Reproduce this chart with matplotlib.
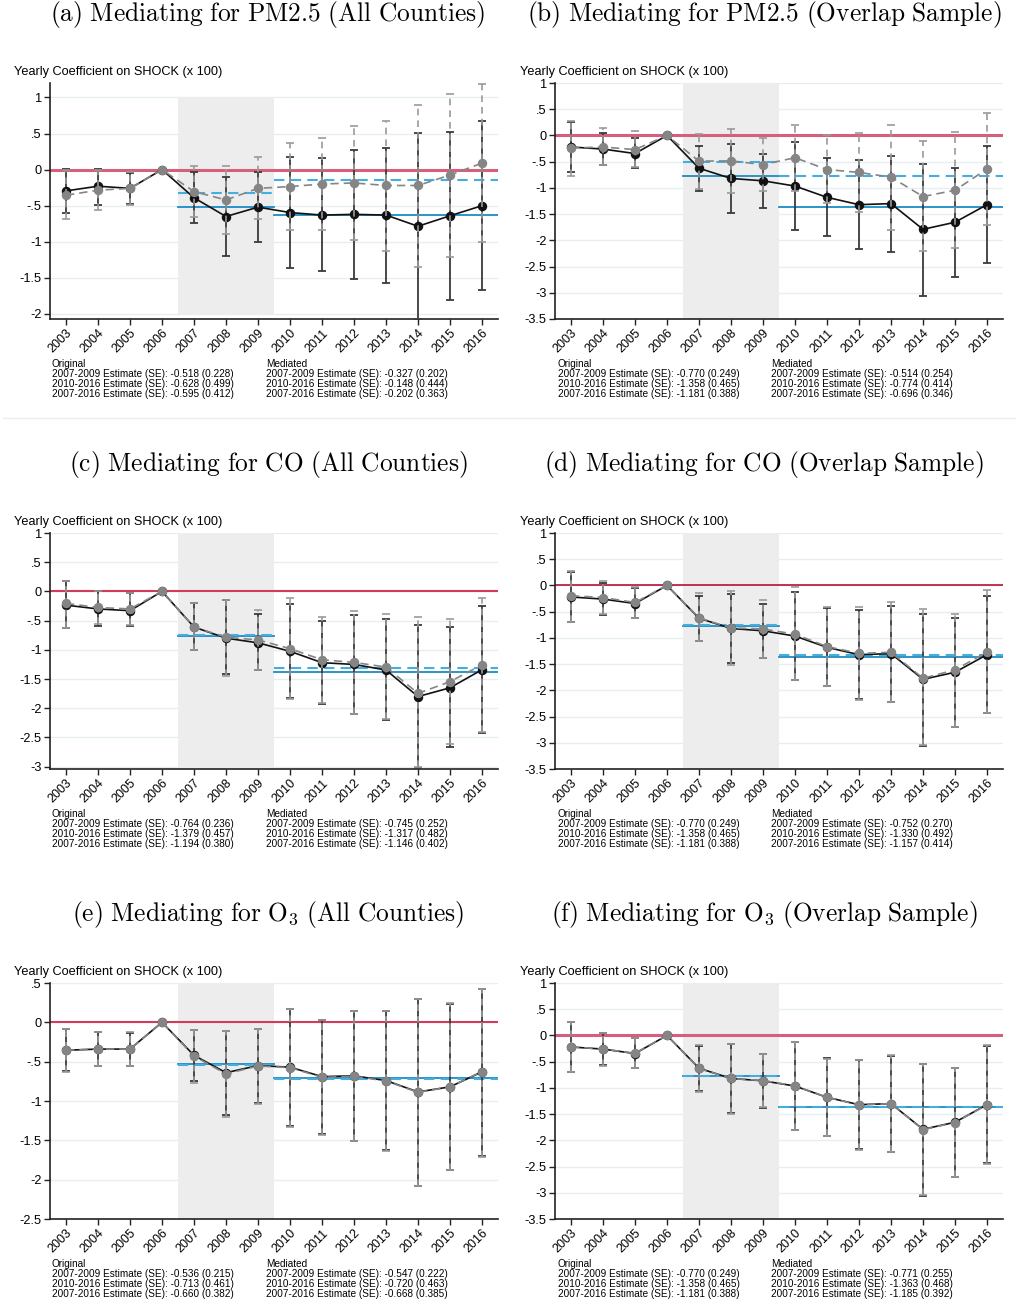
import matplotlib

matplotlib.use("Agg")
import matplotlib.pyplot as plt
import numpy as np

plt.rcParams["font.family"] = ["Liberation Sans", "DejaVu Sans"]
plt.rcParams["mathtext.fontset"] = "cm"

years = [2003, 2004, 2005, 2006, 2007, 2008, 2009, 2010, 2011, 2012, 2013, 2014, 2015, 2016]

# (a) PM2.5, all counties
a_orig = [-0.295, -0.23, -0.26, 0, -0.39, -0.65, -0.52, -0.595, -0.63, -0.62, -0.63, -0.785, -0.64, -0.50]
a_orig_lo = [-0.60, -0.49, -0.47, 0, -0.74, -1.20, -1.01, -1.36, -1.41, -1.51, -1.57, -2.09, -1.80, -1.67]
a_orig_hi = [0.005, 0.01, -0.05, 0, -0.03, -0.10, -0.03, 0.17, 0.16, 0.27, 0.30, 0.51, 0.52, 0.67]
a_med = [-0.355, -0.285, -0.26, 0, -0.305, -0.42, -0.26, -0.235, -0.20, -0.185, -0.22, -0.22, -0.075, 0.09]
a_med_lo = [-0.68, -0.56, -0.49, 0, -0.655, -0.89, -0.69, -0.84, -0.84, -0.98, -1.125, -1.35, -1.205, -1.01]
a_med_hi = [0.0, 0.0, -0.04, 0, 0.05, 0.05, 0.17, 0.365, 0.44, 0.61, 0.68, 0.90, 1.05, 1.19]

# overlap sample, original (same in b, d, f)
ov_orig = [-0.22, -0.26, -0.345, 0, -0.625, -0.82, -0.865, -0.965, -1.18, -1.32, -1.30, -1.79, -1.655, -1.32]
ov_orig_lo = [-0.69, -0.57, -0.63, 0, -1.055, -1.48, -1.375, -1.80, -1.915, -2.17, -2.22, -3.06, -2.69, -2.44]
ov_orig_hi = [0.26, 0.05, -0.045, 0, -0.195, -0.16, -0.35, -0.125, -0.43, -0.46, -0.385, -0.54, -0.62, -0.195]

# (b) PM2.5, overlap sample, mediated
b_med = [-0.24, -0.22, -0.27, 0, -0.49, -0.485, -0.555, -0.425, -0.65, -0.705, -0.795, -1.165, -1.045, -0.64]
b_med_lo = [-0.78, -0.56, -0.61, 0, -1.02, -1.095, -1.06, -1.05, -1.29, -1.465, -1.80, -2.195, -2.14, -1.705]
b_med_hi = [0.28, 0.145, 0.08, 0, 0.03, 0.12, -0.045, 0.20, 0.0, 0.045, 0.195, -0.115, 0.065, 0.43]

# (c) CO, all counties
c_orig = [-0.235, -0.30, -0.33, 0, -0.61, -0.80, -0.88, -1.025, -1.22, -1.25, -1.345, -1.80, -1.65, -1.34]
c_orig_lo = [-0.63, -0.585, -0.59, 0, -1.01, -1.42, -1.35, -1.825, -1.92, -2.10, -2.205, -3.03, -2.67, -2.42]
c_orig_hi = [0.18, 0.0, -0.035, 0, -0.20, -0.155, -0.395, -0.215, -0.50, -0.41, -0.47, -0.57, -0.605, -0.245]
c_med = [-0.205, -0.275, -0.30, 0, -0.61, -0.785, -0.83, -0.98, -1.17, -1.215, -1.295, -1.745, -1.545, -1.255]
c_med_lo = [-0.62, -0.565, -0.58, 0, -1.01, -1.45, -1.345, -1.835, -1.91, -2.09, -2.19, -3.0, -2.62, -2.40]
c_med_hi = [0.18, 0.0, -0.02, 0, -0.19, -0.14, -0.32, -0.115, -0.44, -0.34, -0.39, -0.445, -0.47, -0.115]

# (d) CO, overlap sample, mediated
d_med = [-0.195, -0.23, -0.325, 0, -0.62, -0.81, -0.83, -0.93, -1.165, -1.295, -1.275, -1.77, -1.61, -1.27]
d_med_lo = [-0.69, -0.545, -0.615, 0, -1.05, -1.51, -1.375, -1.81, -1.915, -2.19, -2.22, -3.04, -2.69, -2.435]
d_med_hi = [0.27, 0.08, -0.025, 0, -0.15, -0.10, -0.285, -0.025, -0.405, -0.405, -0.32, -0.445, -0.54, -0.09]

# (e) O3, all counties
e_orig = [-0.355, -0.34, -0.34, 0, -0.42, -0.64, -0.55, -0.57, -0.69, -0.68, -0.74, -0.885, -0.82, -0.63]
e_orig_lo = [-0.62, -0.55, -0.555, 0, -0.74, -1.18, -1.03, -1.315, -1.425, -1.505, -1.62, -2.08, -1.875, -1.705]
e_orig_hi = [-0.085, -0.125, -0.13, 0, -0.10, -0.115, -0.085, 0.175, 0.03, 0.145, 0.145, 0.30, 0.235, 0.425]
e_med = [-0.355, -0.34, -0.34, 0, -0.43, -0.655, -0.555, -0.575, -0.70, -0.685, -0.745, -0.89, -0.82, -0.625]
e_med_lo = [-0.625, -0.555, -0.56, 0, -0.765, -1.20, -1.035, -1.325, -1.43, -1.51, -1.63, -2.085, -1.88, -1.71]
e_med_hi = [-0.085, -0.125, -0.125, 0, -0.095, -0.11, -0.08, 0.175, 0.035, 0.15, 0.15, 0.30, 0.24, 0.43]

# (f) O3, overlap sample, mediated
f_med = [-0.215, -0.26, -0.34, 0, -0.63, -0.82, -0.86, -0.96, -1.18, -1.325, -1.30, -1.795, -1.66, -1.325]
f_med_lo = [-0.69, -0.575, -0.63, 0, -1.07, -1.49, -1.37, -1.795, -1.91, -2.185, -2.22, -3.05, -2.70, -2.445]
f_med_hi = [0.25, 0.045, -0.045, 0, -0.19, -0.165, -0.35, -0.13, -0.44, -0.46, -0.38, -0.54, -0.62, -0.19]

# period estimates: 2007-2009, 2010-2016, 2007-2016 (estimate, se)
a_est_orig = [(-0.518, 0.228), (-0.628, 0.499), (-0.595, 0.412)]
a_est_med = [(-0.327, 0.202), (-0.148, 0.444), (-0.202, 0.363)]
b_est_orig = [(-0.770, 0.249), (-1.358, 0.465), (-1.181, 0.388)]
b_est_med = [(-0.514, 0.254), (-0.774, 0.414), (-0.696, 0.346)]
c_est_orig = [(-0.764, 0.236), (-1.379, 0.457), (-1.194, 0.380)]
c_est_med = [(-0.745, 0.252), (-1.317, 0.482), (-1.146, 0.402)]
d_est_orig = [(-0.770, 0.249), (-1.358, 0.465), (-1.181, 0.388)]
d_est_med = [(-0.752, 0.270), (-1.330, 0.492), (-1.157, 0.414)]
e_est_orig = [(-0.536, 0.215), (-0.713, 0.461), (-0.660, 0.382)]
e_est_med = [(-0.547, 0.222), (-0.720, 0.463), (-0.668, 0.385)]
f_est_orig = [(-0.770, 0.249), (-1.358, 0.465), (-1.181, 0.388)]
f_est_med = [(-0.771, 0.255), (-1.363, 0.468), (-1.185, 0.392)]

titles = [
    r"$\mathrm{(a)\ Mediating\ for\ PM2.5\ (All\ Counties)}$",
    r"$\mathrm{(b)\ Mediating\ for\ PM2.5\ (Overlap\ Sample)}$",
    r"$\mathrm{(c)\ Mediating\ for\ CO\ (All\ Counties)}$",
    r"$\mathrm{(d)\ Mediating\ for\ CO\ (Overlap\ Sample)}$",
    r"$\mathrm{(e)\ Mediating\ for\ O_3\ (All\ Counties)}$",
    r"$\mathrm{(f)\ Mediating\ for\ O_3\ (Overlap\ Sample)}$",
]
period_labels = ["2007-2009", "2010-2016", "2007-2016"]

W, H = 1016, 1316
BLACK = "#111111"
GRAY = "#858585"
BLUE = "#1b8bc4"
LBLUE = "#45aee0"


def stata_fmt(v):
    s = f"{v:g}"
    return s.replace("0.", ".") if abs(v) < 1 and v != 0 else s


def px_axes(fig, left, top, width, height):
    return fig.add_axes([left / W, 1 - (top + height) / H, width / W, height / H])


def draw_panel(fig, col, row, orig, orig_lo, orig_hi, med, med_lo, med_hi,
               est_orig, est_med, ylim, yticks, zero_style):
    x0 = [50, 555][col]
    y0 = [83, 533, 983][row]
    ax = px_axes(fig, x0, y0, 448, 236)
    yr = np.array(years)

    ax.set_xlim(2002.5, 2016.5)
    ax.set_ylim(*ylim)
    for t in yticks:
        ax.axhline(t, color="#e6eeef", lw=1.0, zorder=0)
    ax.fill_between([2006.5, 2009.5], min(yticks), max(yticks), color="#ededed", lw=0, zorder=0.5)
    ax.axhline(0, zorder=1, **zero_style)

    # period averages
    ax.plot([2006.5, 2009.5], [est_orig[0][0]] * 2, color=BLUE, lw=1.3, zorder=2)
    ax.plot([2009.5, 2016.5], [est_orig[1][0]] * 2, color=BLUE, lw=1.3, zorder=2)
    ax.plot([2006.5, 2009.5], [est_med[0][0]] * 2, color=LBLUE, lw=1.5, ls=(0, (5, 3)), zorder=2.1)
    ax.plot([2009.5, 2016.5], [est_med[1][0]] * 2, color=LBLUE, lw=1.5, ls=(0, (5, 3)), zorder=2.1)

    o, m = np.array(orig), np.array(med)
    ax.errorbar(yr, o, yerr=[o - np.array(orig_lo), np.array(orig_hi) - o], fmt="none",
                ecolor="#3a3a3a", elinewidth=1.3, capsize=3.2, capthick=1.3, zorder=3)
    ax.plot(yr, o, color=BLACK, lw=1.2, marker="o", ms=5.8, mfc=BLACK, mec=BLACK, zorder=4)
    eb2 = ax.errorbar(yr, m, yerr=[m - np.array(med_lo), np.array(med_hi) - m], fmt="none",
                      ecolor="#9a9a9a", elinewidth=1.2, capsize=3.2, capthick=1.2, zorder=5)
    eb2[2][0].set_linestyle((0, (4, 3)))
    ax.plot(yr, m, color=GRAY, lw=1.2, ls=(0, (5, 3)), marker="o", ms=5.8, mfc=GRAY, mec=GRAY, zorder=6)

    ax.set_yticks(yticks)
    ax.set_yticklabels([stata_fmt(t) for t in yticks], fontsize=9.2)
    ax.set_xticks(years)
    ax.set_xticklabels([str(y) for y in years], rotation=45, ha="right", rotation_mode="anchor", fontsize=9)
    for side in ["top", "right"]:
        ax.spines[side].set_visible(False)
    for side in ["left", "bottom"]:
        ax.spines[side].set_color("#222222")
        ax.spines[side].set_linewidth(1.2)
    ax.tick_params(direction="out", length=4, width=1.0, color="#222222", pad=2)

    # captions
    tx = [14, 520][col]
    fig.text(tx / W, 1 - (y0 - 11) / H, "Yearly Coefficient on SHOCK (x 100)", fontsize=9.2,
             va="center", ha="left")
    title_x = [268, 764][col]
    fig.text(title_x / W, 1 - (y0 - 68) / H, titles[row * 2 + col], fontsize=18.3, ha="center", va="center")

    fy = y0 + 281
    for lx, head, est in [([52, 558][col], "Original", est_orig), ([266, 771][col], "Mediated", est_med)]:
        lines = [head] + [f"{p} Estimate (SE): {e:.3f} ({s:.3f})" for p, (e, s) in zip(period_labels, est)]
        for i, line in enumerate(lines):
            fig.text(lx / W, 1 - (fy + 10 * i) / H, line, fontsize=7.2, va="center", ha="left")
    return ax


def main():
    fig = plt.figure(figsize=(W / 100, H / 100), dpi=100)
    tk_big = [1, 0.5, 0, -0.5, -1, -1.5, -2, -2.5, -3, -3.5]
    pink = dict(color="#d6607c", lw=2.2)
    red = dict(color="#d23b5a", lw=1.5)
    crimson = dict(color="#b71234", lw=1.2)

    draw_panel(fig, 0, 0, a_orig, a_orig_lo, a_orig_hi, a_med, a_med_lo, a_med_hi,
               a_est_orig, a_est_med, (-2.07, 1.2), [1, 0.5, 0, -0.5, -1, -1.5, -2], pink)
    draw_panel(fig, 1, 0, ov_orig, ov_orig_lo, ov_orig_hi, b_med, b_med_lo, b_med_hi,
               b_est_orig, b_est_med, (-3.5, 1.0), tk_big, pink)
    draw_panel(fig, 0, 1, c_orig, c_orig_lo, c_orig_hi, c_med, c_med_lo, c_med_hi,
               c_est_orig, c_est_med, (-3.04, 1.0), tk_big[:-1], red)
    draw_panel(fig, 1, 1, ov_orig, ov_orig_lo, ov_orig_hi, d_med, d_med_lo, d_med_hi,
               d_est_orig, d_est_med, (-3.5, 1.0), tk_big, crimson)
    draw_panel(fig, 0, 2, e_orig, e_orig_lo, e_orig_hi, e_med, e_med_lo, e_med_hi,
               e_est_orig, e_est_med, (-2.5, 0.5), [0.5, 0, -0.5, -1, -1.5, -2, -2.5], red)
    draw_panel(fig, 1, 2, ov_orig, ov_orig_lo, ov_orig_hi, f_med, f_med_lo, f_med_hi,
               f_est_orig, f_est_med, (-3.5, 1.0), tk_big, pink)

    # faint separator below first row
    fig.add_artist(plt.Line2D([3 / W, 1], [1 - 418 / H] * 2, color="#ececec", lw=1.0))

    fig.savefig("out.png", dpi=100)


if __name__ == "__main__":
    main()
